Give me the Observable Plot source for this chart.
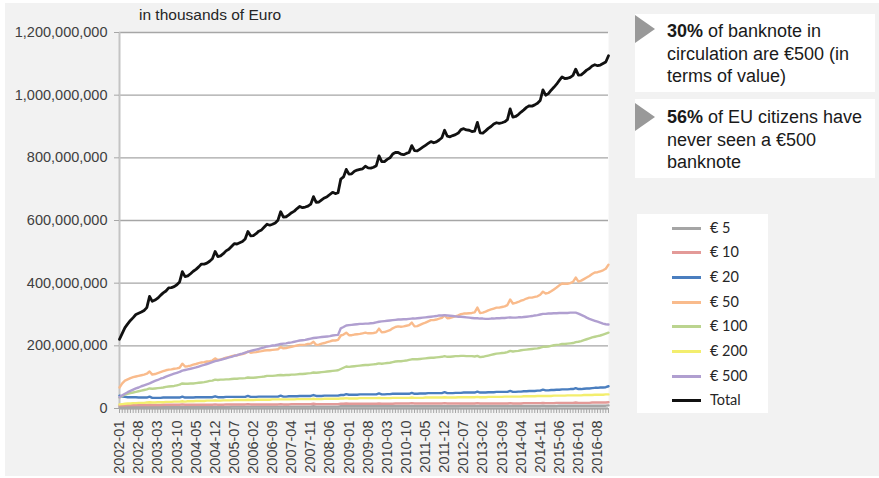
<!DOCTYPE html>
<html>
<head>
<meta charset="utf-8">
<script src="https://cdn.jsdelivr.net/npm/d3@7"></script>
<script src="https://cdn.jsdelivr.net/npm/@observablehq/plot@0.6"></script>
<style>
  html, body { margin: 0; padding: 0; background: #ffffff; }
  #page { position: relative; width: 879px; height: 478px; overflow: hidden; font-family: "Liberation Sans", Arial, sans-serif; }
  #bg { position: absolute; left: 5px; top: 3px; width: 874px; height: 473px; background: #f2f2f2; }
  #chart { position: absolute; left: 0; top: 0; }
  #title { position: absolute; left: 139px; top: 5px; font-size: 15.5px; color: #262626; line-height: 20px; white-space: nowrap; }
  .box { position: absolute; left: 635px; width: 240px; background: #ffffff; }
  .tri { position: absolute; left: 0; width: 0; height: 0; border-top: 14px solid transparent; border-bottom: 14px solid transparent; border-left: 20px solid #999999; }
  .txt { position: absolute; left: 32px; top: 6px; font-size: 18px; line-height: 22.5px; color: #1a1a1a; white-space: nowrap; }
  #legend { position: absolute; left: 637px; top: 214px; width: 131px; height: 199px; background: #ffffff; font-family: Lato, "Liberation Sans", sans-serif; font-size: 14.5px; color: #262626; }
  .lrow { position: absolute; left: 0; height: 20px; width: 131px; }
  .lsw { position: absolute; left: 35px; top: 8.5px; width: 29px; height: 3px; }
  .llab { position: absolute; left: 73px; top: 0; line-height: 20px; white-space: nowrap; }
</style>
</head>
<body>
<div id="page">
  <div id="bg"></div>
  <div id="chart"></div>
  <div id="title">in thousands of Euro</div>
  <div class="box" style="top:14px;height:78px;">
    <div class="tri" style="top:1px;"></div>
    <div class="txt"><b>30%</b> of banknote in<br>circulation are €500 (in<br>terms of value)</div>
  </div>
  <div class="box" style="top:99px;height:79px;">
    <div class="tri" style="top:4px;"></div>
    <div class="txt" style="top:7px;"><b>56%</b> of EU citizens have<br>never seen a €500<br>banknote</div>
  </div>
  <div id="legend"></div>
</div>
<script>
// Categories: monthly, 2002-01 .. 2016-12
const years = [2002,2003,2004,2005,2006,2007,2008,2009,2010,2011,2012,2013,2014,2015,2016];
const monthNums = ["01","02","03","04","05","06","07","08","09","10","11","12"];
const months = years.flatMap(y => monthNums.map(m => `${y}-${m}`));

// Tick labels
const xTickLabels = ["2002-01","2002-08","2003-03","2003-10","2004-05","2004-12","2005-07","2006-02","2006-09","2007-04","2007-11","2008-06","2009-01","2009-08","2010-03","2010-10","2011-05","2011-12","2012-07","2013-02","2013-09","2014-04","2014-11","2015-06","2016-01","2016-08"];
const yTicks = [0, 200000000, 400000000, 600000000, 800000000, 1000000000, 1200000000];

// Series values, in billions of euro (= millions of "thousands of Euro")
const eur5 = [
 5,5,5,5,5,5,5,5,5,5,5,6,
 5,5,5,5,5,5,5,5,5,5,5,6,
 5,5,5,5,5,5,5,5,5,5,5,6,
 5,5,5,5,5,6,6,6,6,6,6,6,
 6,6,6,6,6,6,6,6,6,6,6,6,
 6,6,6,6,6,6,6,6,6,6,6,7,
 6,6,6,6,6,6,6,6,6,7,7,7,
 7,7,7,7,7,7,7,7,7,7,7,7,
 7,7,7,7,7,7,7,7,7,7,7,8,
 7,7,7,7,7,7,7,7,7,7,7,8,
 7,7,7,7,7,8,8,8,8,8,8,8,
 8,8,8,8,8,8,8,8,8,8,8,8,
 8,8,8,8,8,8,8,8,8,8,8,9,
 8,8,8,8,8,9,9,9,9,9,9,9,
 9,9,9,9,9,9,9,9,9,9,9,10];
const eur10 = [
 10,10,10,11,11,11,11,11,11,11,11,12,
 11,11,11,11,12,12,12,12,12,12,12,13,
 12,12,12,12,12,12,12,12,12,12,12,13,
 12,12,12,13,13,13,13,13,13,13,13,14,
 13,13,13,13,13,13,13,13,13,13,13,14,
 13,13,13,14,14,14,14,14,14,14,14,15,
 14,14,14,14,14,14,14,14,14,15,15,16,
 15,15,15,15,15,15,15,15,15,15,15,16,
 15,15,15,15,15,16,16,16,16,16,16,17,
 16,16,16,16,16,16,16,16,16,16,16,17,
 16,16,16,16,16,16,16,16,16,16,16,17,
 16,16,16,16,16,16,16,16,16,16,16,17,
 16,16,16,16,17,17,17,17,17,17,17,18,
 17,17,17,17,18,18,18,18,18,18,18,19,
 18,18,18,18,18,19,19,19,19,19,19,20];
const eur20 = [
 41,38,37,36,36,36,36,35,35,35,35,38,
 34,34,34,34,35,35,35,35,35,35,35,38,
 35,35,35,35,36,36,36,36,36,36,36,39,
 36,36,36,37,37,37,37,37,37,37,37,40,
 37,37,37,38,38,38,38,38,38,38,38,41,
 38,38,39,39,39,39,40,40,40,40,40,43,
 40,40,40,41,41,41,41,41,41,43,43,46,
 44,44,44,44,45,45,45,45,45,45,45,48,
 45,45,46,46,47,47,47,47,47,47,47,50,
 47,47,48,48,48,49,49,49,49,49,49,52,
 49,49,49,50,50,50,51,51,51,51,51,54,
 51,51,51,52,52,52,53,53,53,53,53,56,
 53,53,54,54,55,55,56,56,56,57,57,60,
 58,58,59,59,60,60,61,61,61,62,62,65,
 62,62,63,64,64,65,66,66,67,67,68,71];
const eur50 = [
 67,80,89,93,97,100,102,104,106,108,111,118,
 108,110,113,116,119,122,124,125,127,128,130,143,
 134,135,137,140,142,145,147,148,150,151,153,160,
 155,157,159,162,164,167,169,170,172,174,176,182,
 178,179,180,182,183,185,186,186,187,188,189,196,
 192,193,195,197,199,201,203,203,204,206,207,213,
 203,204,207,209,212,214,217,217,219,233,236,242,
 234,234,236,237,238,240,242,240,240,241,243,255,
 243,244,247,250,256,260,262,261,262,264,266,274,
 262,263,267,271,274,278,282,282,284,287,289,297,
 288,289,292,294,297,301,303,303,304,305,307,322,
 305,306,309,313,316,319,322,322,324,326,330,348,
 335,337,340,344,347,351,354,354,356,358,363,373,
 367,369,374,380,386,393,399,398,398,400,404,418,
 405,408,413,418,423,429,434,435,438,441,446,459];
const eur100 = [
 35,40,44,47,49,51,53,55,57,59,61,64,
 63,64,65,66,67,69,70,71,72,74,76,80,
 79,79,80,80,81,82,83,84,86,88,89,92,
 91,92,92,93,93,94,95,95,96,96,97,99,
 98,98,99,100,101,102,104,104,104,105,106,107,
 106,107,107,108,108,109,110,110,111,112,113,115,
 114,115,116,117,118,119,120,121,122,126,130,134,
 133,134,135,136,137,138,139,139,140,141,142,144,
 143,144,145,146,148,150,151,151,152,153,155,157,
 157,157,158,159,160,161,162,162,163,164,165,167,
 165,165,166,167,167,168,168,167,167,167,166,168,
 164,165,167,169,171,173,175,176,177,178,180,184,
 182,183,184,186,187,188,189,190,191,192,194,197,
 197,198,200,202,203,204,206,206,207,208,209,212,
 213,215,218,221,224,227,229,231,233,236,239,242];
const eur200 = [
 13,14,15,16,16,17,17,18,18,18,19,20,
 19,19,20,20,20,21,21,21,22,22,22,23,
 22,23,23,23,24,24,24,24,25,25,25,26,
 25,25,26,26,26,26,27,27,27,27,27,28,
 27,27,28,28,28,28,28,28,29,29,29,29,
 29,29,29,29,29,30,30,30,30,30,30,31,
 30,30,30,31,31,31,31,31,31,32,32,33,
 32,32,32,32,33,33,33,33,33,33,33,34,
 33,33,33,33,34,34,34,34,34,34,34,35,
 34,34,34,34,35,35,35,35,35,35,35,36,
 35,35,35,35,36,36,36,36,36,36,36,37,
 36,36,36,37,37,37,37,37,37,38,38,38,
 38,38,38,38,39,39,39,39,39,40,40,40,
 40,40,40,41,41,41,41,41,42,42,42,42,
 42,42,43,43,43,43,44,44,44,44,45,45];
const eur500 = [
 36,42,47,52,56,60,64,67,71,74,77,80,
 84,88,91,95,98,102,105,108,111,114,117,121,
 123,125,127,129,131,134,137,139,142,145,148,151,
 153,155,158,160,163,165,168,170,173,175,178,181,
 184,186,188,190,193,195,198,199,201,202,204,206,
 207,208,210,211,213,215,217,218,219,221,223,225,
 226,227,228,229,230,231,233,234,235,256,260,265,
 266,267,268,269,270,270,271,271,272,273,275,277,
 278,279,280,281,282,283,284,284,285,285,286,287,
 287,288,289,290,291,292,293,294,295,297,297,298,
 297,296,295,294,293,293,292,291,290,289,288,288,
 287,287,286,286,287,287,288,288,289,289,290,291,
 290,290,291,291,292,293,294,295,297,298,300,302,
 302,303,303,304,304,305,305,305,305,306,306,306,
 303,299,295,290,286,283,280,277,274,271,269,268];
const total = [
 221,240,258,270,281,290,300,304,308,313,322,358,
 342,346,352,361,369,375,385,386,389,395,404,437,
 421,423,430,438,444,452,461,461,464,470,478,501,
 485,487,494,503,508,517,526,525,529,533,541,565,
 551,552,558,566,570,579,588,585,588,592,601,628,
 611,612,618,625,630,638,645,641,643,646,652,676,
 658,659,666,672,676,683,690,686,689,732,739,763,
 748,749,757,761,763,765,773,768,767,770,775,806,
 788,788,795,800,812,817,817,812,810,814,817,839,
 823,822,828,834,840,846,852,848,851,857,864,888,
 869,867,871,874,879,890,893,889,888,884,885,913,
 880,879,886,894,900,908,912,910,912,915,922,956,
 930,932,938,946,953,961,966,965,969,974,983,1017,
 1000,1005,1016,1025,1035,1047,1058,1053,1054,1057,1063,1083,
 1064,1065,1072,1080,1085,1093,1097,1094,1096,1101,1106,1126];

const seriesNames = ["€ 5","€ 10","€ 20","€ 50","€ 100","€ 200","€ 500","Total"];
const seriesValues = [eur5, eur10, eur20, eur50, eur100, eur200, eur500, total];
const seriesColors = ["#a5a5a5","#e39a98","#4a7ebf","#f9bb8c","#bbd48f","#f3ee6e","#b09fd0","#111111"];
const seriesWidths = [2.4, 2.4, 2.4, 2.4, 2.4, 2.4, 2.4, 2.8];

const UNIT = 1e6; // billions of euro -> thousands of euro

const lineMarks = seriesNames.map((name, k) => {
  const rows = seriesValues[k].map((v, i) => ({month: months[i], value: v * UNIT}));
  return Plot.line(rows, {x: "month", y: "value", stroke: seriesColors[k], strokeWidth: seriesWidths[k], strokeLinejoin: "round", strokeLinecap: "round"});
});

const chart = Plot.plot({
  width: 879,
  height: 478,
  marginLeft: 119,
  marginRight: 271,
  marginTop: 32,
  marginBottom: 70,
  style: {background: "transparent", fontFamily: "'Liberation Sans', Arial, sans-serif", fontSize: "14.5px", color: "#404040", overflow: "visible"},
  x: {type: "point", domain: months, padding: 0},
  y: {domain: [0, 1200000000]},
  marks: [
    Plot.frame({fill: "white", stroke: null}),
    Plot.gridY({ticks: yTicks, stroke: "#a6a6a6", strokeOpacity: 1, strokeWidth: 1.3}),
    Plot.ruleX([months[0]], {stroke: "#c4c4c4", strokeWidth: 2}),
    Plot.axisY({ticks: yTicks, tickFormat: d3.format(","), tickSize: 5, tickPadding: 7, label: null, stroke: "#a6a6a6", fill: "#404040"}),
    Plot.axisX({ticks: months, tickSize: 5, tickFormat: () => "", label: null, stroke: "#a6a6a6"}),
    Plot.axisX({ticks: xTickLabels, tickSize: 0, tickPadding: 12, tickRotate: -90, label: null, fill: "#404040"}),
    ...lineMarks,
    Plot.ruleY([0], {stroke: "#a6a6a6", strokeWidth: 2})
  ]
});
document.getElementById("chart").appendChild(chart);

// Legend
const legend = document.getElementById("legend");
const rowCenters = [14, 38, 63, 88, 112, 137, 162, 186];
seriesNames.forEach((name, k) => {
  const row = document.createElement("div");
  row.className = "lrow";
  row.style.top = (rowCenters[k] - 10) + "px";
  const sw = document.createElement("div");
  sw.className = "lsw";
  sw.style.background = seriesColors[k];
  const lab = document.createElement("div");
  lab.className = "llab";
  lab.textContent = name;
  row.appendChild(sw);
  row.appendChild(lab);
  legend.appendChild(row);
});
</script>
</body>
</html>
